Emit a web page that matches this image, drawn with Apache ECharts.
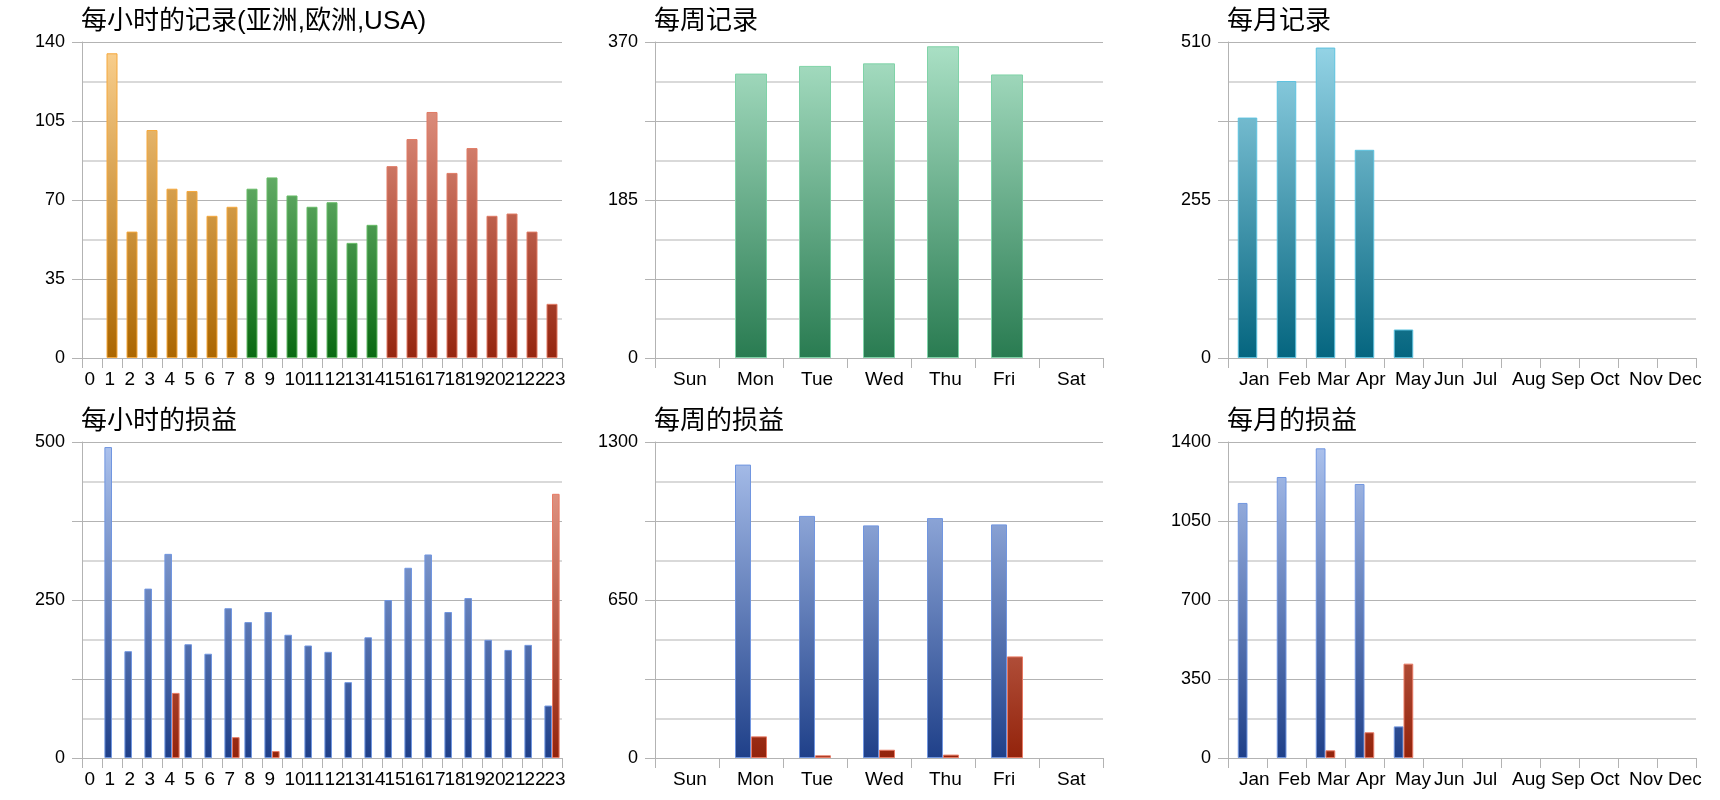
<!DOCTYPE html>
<html>
<head>
<meta charset="utf-8">
<script src="https://cdn.jsdelivr.net/npm/echarts@6/dist/echarts.min.js"></script>
<style>
html,body{margin:0;padding:0;background:#fff;}
#chart{width:1720px;height:800px;}
</style>
</head>
<body>
<div id="chart"></div>
<script>
// ---------- data ----------
const hours = ['0','1','2','3','4','5','6','7','8','9','10','11','12','13','14','15','16','17','18','19','20','21','22','23'];
const weekdays = ['Sun','Mon','Tue','Wed','Thu','Fri','Sat'];
const months = ['Jan','Feb','Mar','Apr','May','Jun','Jul','Aug','Sep','Oct','Nov','Dec'];

const hourlyAsia   = [null,135,56,101,75,74,63,67,null,null,null,null,null,null,null,null,null,null,null,null,null,null,null,null];
const hourlyEurope = [null,null,null,null,null,null,null,null,75,80,72,67,69,51,59,null,null,null,null,null,null,null,null,null];
const hourlyUSA    = [null,null,null,null,null,null,null,null,null,null,null,null,null,null,null,85,97,109,82,93,63,64,56,24];

const hourlyProfit = [null,492,169,268,323,180,165,237,215,231,195,178,168,120,191,250,301,322,231,253,187,171,179,83];
const hourlyLoss   = [null,null,null,null,103,null,null,33,null,11,null,null,null,null,null,null,null,null,null,null,null,null,null,418];

const weeklyRecords = [null,333,342,345,365,332,null];
const weeklyProfit  = [null,1207,996,957,987,961,null];
const weeklyLoss    = [null,89,11,34,14,418,null];

const monthlyRecords = [388,447,501,336,46,null,null,null,null,null,null,null];
const monthlyProfit  = [1130,1245,1372,1214,140,null,null,null,null,null,null,null];
const monthlyLoss    = [null,null,34,114,418,null,null,null,null,null,null,null];

const titles = ['每小时的记录(亚洲,欧洲,USA)','每周记录','每月记录','每小时的损益','每周的损益','每月的损益'];
const yMax      = [140, 370, 510, 500, 1300, 1400];
const yInterval = [35, 92.5, 127.5, 125, 325, 350];
const yEveryOther = [false, true, true, true, true, false];

// ---------- layout ----------
const cols = [{left:82, width:480}, {left:655, width:448}, {left:1228, width:468}];
const rows = [{top:42, height:316}, {top:442, height:316}];
const labelShift = [-7.5, -14, -8.5];
const FONT = "'Liberation Sans', Arial, 'Noto Sans CJK SC', sans-serif";
const GRID_DARK = '#b3b3b3';
const GRID_LIGHT = '#d9d9d9';

function grad(idx, topColor, bottomColor) {
  const r = rows[Math.floor(idx / 3)];
  return new echarts.graphic.LinearGradient(0, r.top, 0, r.top + r.height,
    [{offset:0, color:topColor}, {offset:1, color:bottomColor}], true);
}

const grids = [], xAxes = [], yAxes = [], titleArr = [];
for (let i = 0; i < 6; i++) {
  const c = cols[i % 3], r = rows[Math.floor(i / 3)];
  grids.push({left:c.left, top:r.top, width:c.width, height:r.height, containLabel:false});
  titleArr.push({
    text: titles[i], left: c.left - 1, top: r.top - 33, padding: 0,
    textStyle: {fontSize: 26, fontWeight: 'normal', color: '#000', fontFamily: FONT}
  });
  const cats = (i % 3 === 0) ? hours : (i % 3 === 1 ? weekdays : months);
  xAxes.push({
    type:'category', gridIndex:i, data:cats, boundaryGap:true,
    axisLine:{show:true, lineStyle:{color:GRID_DARK, width:1}},
    axisTick:{show:true, length:10, alignWithLabel:false, interval:0, lineStyle:{color:GRID_DARK}},
    axisLabel:{interval:0, align:'left', padding:[0,0,0,labelShift[i % 3]], margin:12,
      fontSize:19, color:'#000', fontFamily:FONT, hideOverlap:false},
    splitLine:{show:false}
  });
  const every = yEveryOther[i];
  yAxes.push({
    type:'value', gridIndex:i, min:0, max:yMax[i], interval:yInterval[i],
    axisLine:{show:true, lineStyle:{color:GRID_DARK, width:1}},
    axisTick:{show:true, length:10, lineStyle:{color:GRID_DARK}},
    axisLabel:{margin:17, fontSize:18, color:'#000', fontFamily:FONT,
      formatter: (v, idx) => (every && idx % 2 === 1) ? '' : String(v)},
    splitLine:{show:true, lineStyle:{color:GRID_DARK, width:1}},
    minorTick:{show:false, splitNumber:2},
    minorSplitLine:{show:true, lineStyle:{color:GRID_LIGHT, width:2}}
  });
}

function bar(name, idx, data, topC, botC, border, opts) {
  return Object.assign({
    name, type:'bar', xAxisIndex:idx, yAxisIndex:idx, data,
    itemStyle:{color:grad(idx, topC, botC), borderColor:border, borderWidth:1},
    emphasis:{disabled:true}, animation:false
  }, opts || {});
}

const series = [
  bar('亚洲', 0, hourlyAsia,   '#fbd190', '#ab6600', '#f5a83c', {stack:'rec', barWidth:'55%'}),
  bar('欧洲', 0, hourlyEurope, '#a3dba3', '#0a6912', '#66bb66', {stack:'rec', barWidth:'55%'}),
  bar('USA', 0, hourlyUSA,    '#efa898', '#952610', '#e07a64', {stack:'rec', barWidth:'55%'}),

  bar('记录', 1, weeklyRecords, '#abe1c6', '#297b51', '#80d3a8', {barWidth:'50%'}),
  bar('记录', 2, monthlyRecords, '#96d5e7', '#04657f', '#5cc2df', {barWidth:'50%'}),

  bar('盈利', 3, hourlyProfit, '#adc3ee', '#1f4089', '#7196e0', {barWidth:'38%', barGap:'0%'}),
  bar('亏损', 3, hourlyLoss,   '#eca797', '#93230b', '#e87a64', {barWidth:'38%', barGap:'0%'}),

  bar('盈利', 4, weeklyProfit, '#adc3ee', '#1f4089', '#7196e0', {barWidth:'25%', barGap:'0%'}),
  bar('亏损', 4, weeklyLoss,   '#eca797', '#93230b', '#e87a64', {barWidth:'25%', barGap:'0%'}),

  bar('盈利', 5, monthlyProfit, '#adc3ee', '#1f4089', '#7196e0', {barWidth:'25%', barGap:'0%'}),
  bar('亏损', 5, monthlyLoss,   '#eca797', '#93230b', '#e87a64', {barWidth:'25%', barGap:'0%'})
];

const chart = echarts.init(document.getElementById('chart'), null, {renderer:'canvas'});
chart.setOption({
  backgroundColor:'#fff',
  animation:false,
  title:titleArr,
  grid:grids,
  xAxis:xAxes,
  yAxis:yAxes,
  series:series
});
</script>
</body>
</html>
